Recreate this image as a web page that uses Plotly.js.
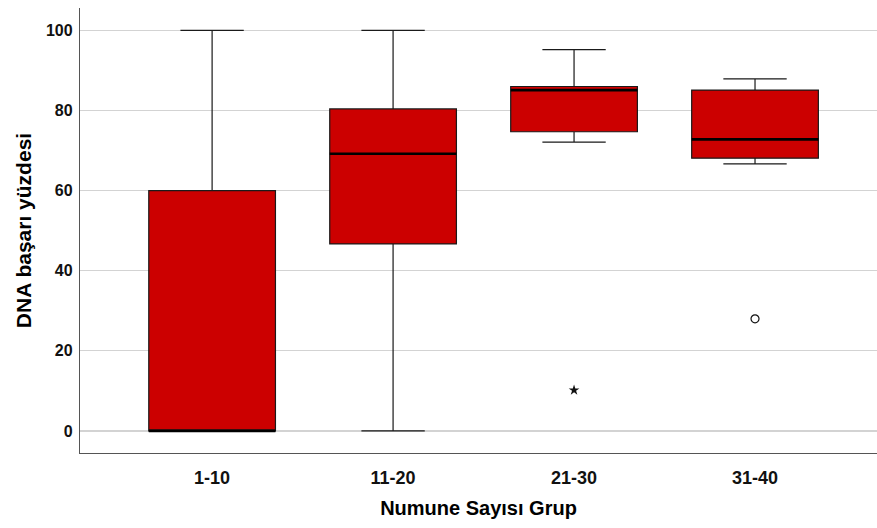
<!DOCTYPE html>
<html>
<head>
<meta charset="utf-8">
<script src="https://cdn.plot.ly/plotly-3.0.1.min.js"></script>
<style>html,body{margin:0;padding:0;background:#fff}#chart{width:877px;height:528px}</style>
</head>
<body>
<div id="chart"></div>
<script>
const categories = ["1-10", "11-20", "21-30", "31-40"];
const lowerWhisker = [0, 0, 72.1, 66.7];
const q1Values = [0, 46.7, 74.7, 68.1];
const medianValues = [0, 69.2, 85.1, 72.8];
const q3Values = [60, 80.4, 86.0, 85.1];
const upperWhisker = [100, 100, 95.2, 87.9];
const extremeGroup = ["21-30"];
const extremeValues = [10.2];
const outlierGroup = ["31-40"];
const outlierValues = [28.0];

const pos = categories.map((c, i) => i);
const idx = c => categories.indexOf(c);
const boxW = 0.70;

const medX = [], medY = [];
pos.forEach((p, i) => { medX.push(p - boxW/2, p + boxW/2, null); medY.push(medianValues[i], medianValues[i], null); });

const traces = [
  {
    type: 'box',
    x: pos,
    q1: q1Values,
    median: medianValues,
    q3: q3Values,
    lowerfence: lowerWhisker,
    upperfence: upperWhisker,
    width: boxW,
    whiskerwidth: 0.5,
    fillcolor: '#CC0000',
    line: {color: '#1a1a1a', width: 1.2},
    boxpoints: false,
    hoverinfo: 'skip',
    showlegend: false
  },
  {
    type: 'scatter', mode: 'lines',
    x: medX, y: medY,
    line: {color: '#000', width: 2.6},
    hoverinfo: 'skip', showlegend: false
  },
  {
    type: 'scatter', mode: 'markers',
    x: extremeGroup.map(idx), y: extremeValues,
    marker: {symbol: 'star', size: 8, color: '#111'},
    showlegend: false
  },
  {
    type: 'scatter', mode: 'markers',
    x: outlierGroup.map(idx), y: outlierValues,
    marker: {symbol: 'circle-open', size: 8, color: '#111', line: {width: 1.2}},
    showlegend: false
  }
];

const layout = {
  width: 877, height: 528,
  margin: {l: 80, r: 0, t: 8, b: 75},
  paper_bgcolor: '#fff', plot_bgcolor: '#fff',
  font: {family: '"Liberation Sans", Arial, sans-serif', color: '#000'},
  xaxis: {
    range: [-0.73, 3.674],
    tickmode: 'array', tickvals: pos, ticktext: categories,
    tickfont: {size: 18, weight: 'bold', color: '#111'},
    showgrid: false, zeroline: false,
    showline: true, linecolor: '#555', linewidth: 1.2,
    ticks: '', ticklabelstandoff: 8,
    title: {text: 'Numune Sayısı Grup', font: {size: 20, weight: 'bold', color: '#000'}, standoff: 14}
  },
  yaxis: {
    range: [-5.5, 105.6],
    tickvals: [0, 20, 40, 60, 80, 100],
    tickfont: {size: 16, weight: 'bold', color: '#111'},
    showgrid: true, gridcolor: '#d3d3d3', gridwidth: 1.2,
    zeroline: false,
    showline: true, linecolor: '#555', linewidth: 1.2,
    ticks: '', ticklabelstandoff: 3,
    title: {text: 'DNA başarı yüzdesi', font: {size: 21, weight: 'bold', color: '#000'}, standoff: 8}
  }
};

Plotly.newPlot('chart', traces, layout, {displayModeBar: false, staticPlot: true});
</script>
</body>
</html>
